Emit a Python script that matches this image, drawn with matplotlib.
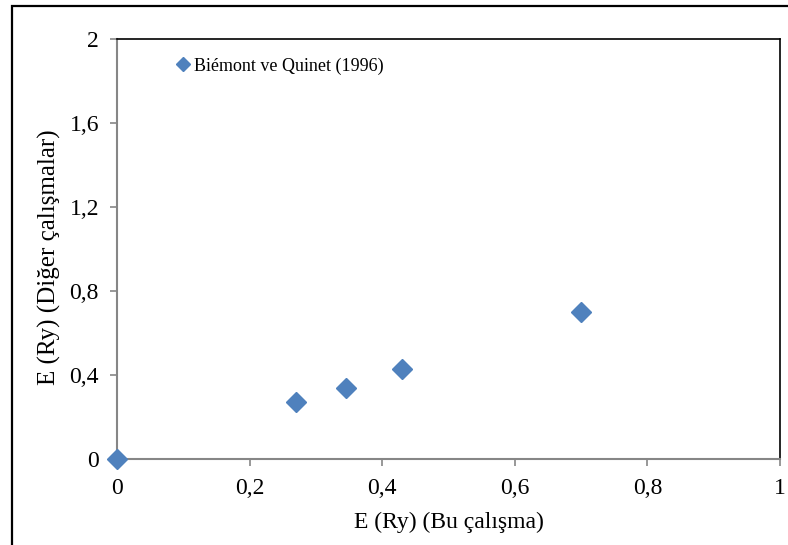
import matplotlib.pyplot as plt
from matplotlib.patches import Rectangle
from matplotlib.ticker import FuncFormatter

plt.rcParams.update({"font.family": "Liberation Serif", "font.size": 17})

# Data
this_work = [0.0, 0.27, 0.345, 0.43, 0.70]
other_work = [0.0, 0.272, 0.336, 0.428, 0.70]
x_ticks = [0, 0.2, 0.4, 0.6, 0.8, 1]
y_ticks = [0, 0.4, 0.8, 1.2, 1.6, 2]
series_label = "Biémont ve Quinet (1996)"

W, H = 788, 545
fig = plt.figure(figsize=(W / 100, H / 100), dpi=100)
ax = fig.add_axes([117 / W, 1 - 459 / H, (780 - 117) / W, (459 - 39) / H])

ax.plot(this_work, other_work, linestyle="none", marker="D", markersize=10,
        color="#4F81BD", clip_on=False, zorder=5, label=series_label)

ax.set_xlim(0, 1)
ax.set_ylim(0, 2)
ax.set_xticks(x_ticks)
ax.set_yticks(y_ticks)
fmt = FuncFormatter(lambda v, p: f"{v:g}".replace(".", ","))
ax.xaxis.set_major_formatter(fmt)
ax.yaxis.set_major_formatter(fmt)

for side in ("left", "bottom"):
    ax.spines[side].set_color("#868686")
    ax.spines[side].set_linewidth(1.5)
for side in ("top", "right"):
    ax.spines[side].set_color("black")
    ax.spines[side].set_linewidth(1.2)
ax.tick_params(direction="out", length=5, width=1.2, color="#868686")
ax.tick_params(axis="x", pad=9)
ax.tick_params(axis="y", pad=8)

ax.set_xlabel("E (Ry) (Bu çalışma)", labelpad=9)
ax.set_ylabel("E (Ry) (Diğer çalışmalar)", fontsize=18)
ax.yaxis.set_label_coords(-0.085, 0.48)

ax.legend(loc="center left", bbox_to_anchor=(177 / W, 1 - 66 / H),
          bbox_transform=fig.transFigure, frameon=False, fontsize=13,
          handlelength=0.7, handletextpad=0.25, borderpad=0, borderaxespad=0,
          markerscale=0.7)

# outer chart frame
fig.patches.append(Rectangle((12 / W, -0.1), 1.2, 1 - 6 / H + 0.1,
                             transform=fig.transFigure, fill=False,
                             edgecolor="black", linewidth=1.6))

fig.savefig("out.png", dpi=100)
